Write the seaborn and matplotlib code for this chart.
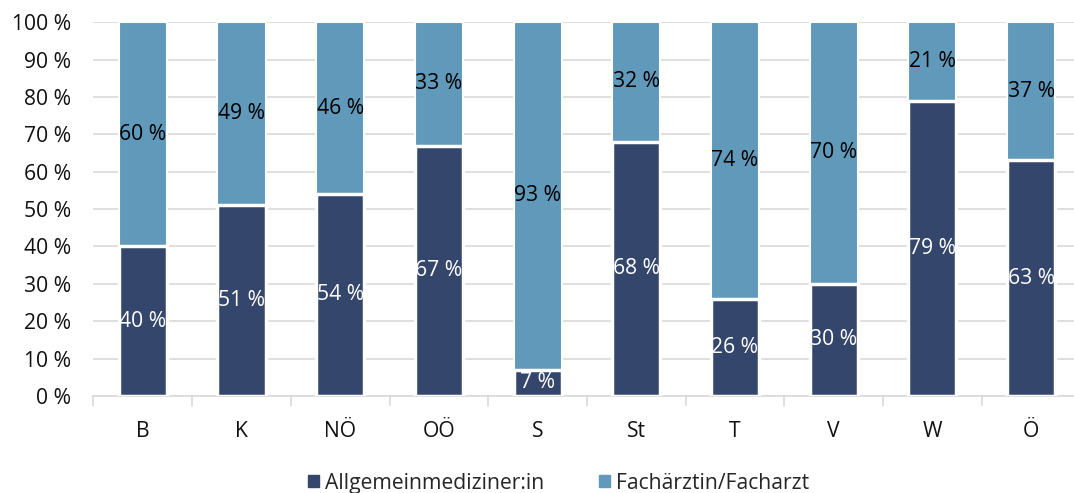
import numpy as np
import pandas as pd
import matplotlib.pyplot as plt
from matplotlib.patches import Patch
from matplotlib.ticker import FixedLocator
import seaborn as sns

regions = ["B", "K", "NÖ", "OÖ", "S", "St", "T", "V", "W", "Ö"]
allgemein = [40, 51, 54, 67, 7, 68, 26, 30, 79, 63]
facharzt = [60, 49, 46, 33, 93, 32, 74, 70, 21, 37]
series_names = ["Allgemeinmediziner:in", "Fachärztin/Facharzt"]

dark = "#34466B"
light = "#6199BA"

sns.set_theme(style="white")
plt.rcParams["font.family"] = ["Open Sans", "DejaVu Sans"]
fs = 15.2

df = pd.DataFrame({"region": regions, "allg": allgemein, "fach": facharzt})
df["total"] = df["allg"] + df["fach"]

fig, ax = plt.subplots(figsize=(10.74, 4.93), dpi=100)
# the plot area runs a little past the right edge, like the original export
fig.subplots_adjust(left=0.087, right=1.006, top=0.955, bottom=0.197)

# light segment spans the full stack, dark segment drawn over it
sns.barplot(data=df, x="region", y="total", color=light, width=0.487,
            edgecolor="white", linewidth=1.5, saturation=1, ax=ax, zorder=2)
sns.barplot(data=df, x="region", y="allg", color=dark, width=0.487,
            edgecolor="white", linewidth=2.5, saturation=1, ax=ax, zorder=3)

for i, (a, f) in enumerate(zip(allgemein, facharzt)):
    ax.text(i, a / 2, f"{a} %", ha="center", va="center", color="white",
            fontsize=fs, zorder=4)
    ax.text(i, a + f / 2, f"{f} %", ha="center", va="center", color="black",
            fontsize=fs, zorder=4)

ax.set_ylim(0, 100)
ax.set_xlim(-0.5, len(regions) - 0.5)
ax.set_yticks(np.arange(0, 101, 10))
ax.set_yticklabels([f"{v} %" for v in range(0, 101, 10)])
ax.yaxis.grid(True, color="#D9D9D9", linewidth=1.2, zorder=0)
ax.set_axisbelow(True)
ax.set_xlabel("")
ax.set_ylabel("")

for s in ["left", "right", "top"]:
    ax.spines[s].set_visible(False)
ax.spines["bottom"].set_color("#D9D9D9")
ax.spines["bottom"].set_linewidth(1.2)

ax.xaxis.set_minor_locator(FixedLocator(np.arange(-0.5, len(regions), 1)))
ax.tick_params(axis="x", which="minor", length=7, width=1.2, color="#D9D9D9",
               direction="out", bottom=True)
ax.tick_params(axis="x", which="major", length=0, pad=18, labelsize=fs,
               labelcolor="#111111")
ax.tick_params(axis="y", length=0, pad=16, labelsize=fs, labelcolor="#111111")

handles = [Patch(color=dark), Patch(color=light)]
fig.legend(handles, series_names, loc="lower center", ncol=2, frameon=False,
           fontsize=fs, handlelength=0.5, handleheight=0.5, handletextpad=0.3,
           columnspacing=2.6, bbox_to_anchor=(0.52, -0.04))

fig.savefig("out.png", dpi=100)
